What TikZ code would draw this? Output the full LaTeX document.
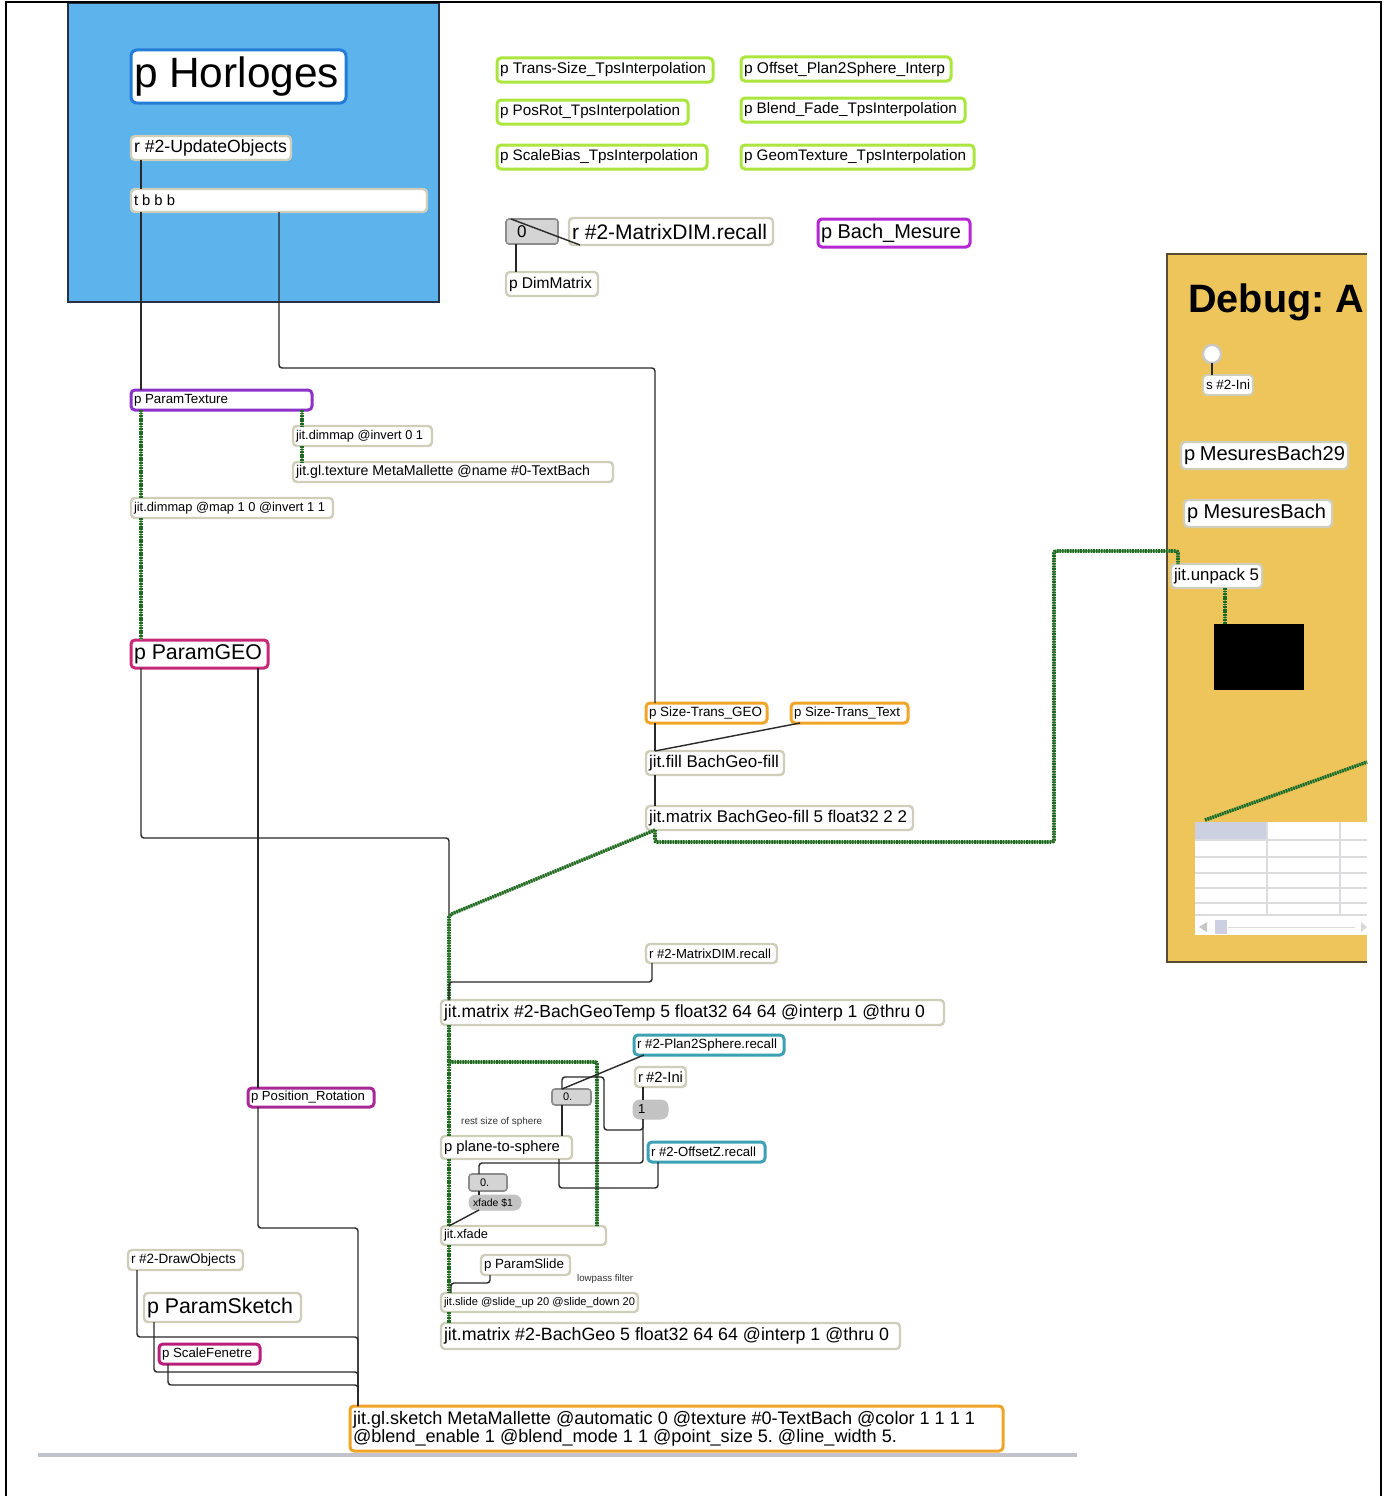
\documentclass[tikz,border=0pt]{standalone}
\usepackage{fontspec}
\setmainfont{Liberation Sans}
\usetikzlibrary{calc}

\definecolor{panelblue}{RGB}{93,179,236}
\definecolor{panelb}{RGB}{40,50,70}
\definecolor{dbg}{RGB}{237,197,90}
\definecolor{dbgb}{RGB}{90,75,50}
\definecolor{objb}{RGB}{206,206,186}
\definecolor{horlb}{RGB}{35,125,215}
\definecolor{grn}{RGB}{170,230,60}
\definecolor{purp}{RGB}{140,50,200}
\definecolor{bachc}{RGB}{180,40,210}
\definecolor{pinkc}{RGB}{200,40,120}
\definecolor{posc}{RGB}{170,40,150}
\definecolor{scfc}{RGB}{185,30,120}
\definecolor{orng}{RGB}{240,165,40}
\definecolor{teal}{RGB}{60,160,180}
\definecolor{portc}{RGB}{110,110,110}
\definecolor{cordc}{RGB}{40,40,40}
\definecolor{jitg}{RGB}{30,105,35}
\definecolor{jitgl}{RGB}{120,170,100}
\definecolor{nbf}{RGB}{212,212,212}
\definecolor{nbb}{RGB}{140,140,140}
\definecolor{ntri}{RGB}{175,175,175}
\definecolor{pillf}{RGB}{195,195,195}
\definecolor{barc}{RGB}{195,195,205}
\definecolor{gridc}{RGB}{220,220,222}
\definecolor{hdr}{RGB}{205,208,225}
\definecolor{btnb}{RGB}{200,200,200}

% text scaled so that its natural width equals #1 (pt)
\newlength\fitlen
\newcommand\fitt[2]{\frenchspacing\spaceskip=0pt\xspaceskip=0pt
  \settowidth\fitlen{\fontsize{10pt}{12pt}\selectfont #2}%
  \pgfmathsetmacro\fitsz{10*#1/\fitlen}%
  \fontsize{\fitsz pt}{\fitsz pt}\selectfont #2}
\newcommand\fittwo[4]{\frenchspacing\spaceskip=0pt\xspaceskip=0pt
  \settowidth\fitlen{\fontsize{10pt}{12pt}\selectfont #2}%
  \pgfmathsetmacro\fitsz{10*#1/\fitlen}%
  \fontsize{\fitsz pt}{#4pt}\selectfont #2\\#3}

% object box: name, left, top, width, height, style, content
\newcommand\mxobj[7]{%
  \pgfmathsetmacro\objtw{#4-6}%
  \node[#6, anchor=north west, minimum width=#4pt, minimum height=#5pt,
        text width=\objtw pt] (#1) at (#2,#3) {#7};}

\tikzset{
  obj/.style={draw=objb, line width=2.4pt, fill=white, rounded corners=4pt,
              inner xsep=3pt, inner ysep=0pt, outer sep=0pt, align=left, text=black},
  gobj/.style={obj, draw=grn, line width=3pt},
  oobj/.style={obj, draw=orng, line width=3pt},
  tobj/.style={obj, draw=teal, line width=3pt},
  nbox/.style={draw=nbb, fill=nbf, line width=1.6pt, rounded corners=3pt,
               inner xsep=3pt, inner ysep=0pt, outer sep=0pt, align=left,
               append after command={\pgfextra{\fill[ntri, sharp corners]
                 ([xshift=4pt]\tikzlastnode.west) ++(0,-4) -- ++(5,4) -- ++(-5,4) -- cycle;}}},
  pill/.style={fill=pillf, draw=pillf, line width=1pt, rounded corners=7pt,
               inner xsep=3pt, inner ysep=0pt, outer sep=0pt, align=left},
  cord/.style={draw=cordc, line width=1.4pt, rounded corners=3pt},
  mcord/.style={draw=jitg, line width=3.6pt, dash pattern=on 1.7pt off 0.9pt, rounded corners=2pt,
                preaction={draw=jitgl, line width=2.2pt, dash pattern=}},
  tT/.style={append after command={\pgfextra{\fill[portc, sharp corners]
      ([xshift=#1]\tikzlastnode.north west) rectangle ++(9,3);}}},
  tT/.default=4pt,
  tB/.style={append after command={\pgfextra{\fill[portc, sharp corners]
      ([xshift=#1]\tikzlastnode.south west) ++(0,-3) rectangle ++(9,3);}}},
  tB/.default=4pt,
  tTR/.style={append after command={\pgfextra{\fill[portc, sharp corners]
      ([xshift=-13pt]\tikzlastnode.north east) rectangle ++(9,3);}}},
  tBR/.style={append after command={\pgfextra{\fill[portc, sharp corners]
      ([xshift=-13pt]\tikzlastnode.south east) ++(0,-3) rectangle ++(9,3);}}},
  dashbot/.style={append after command={\pgfextra{\draw[portc!80, line width=2.6pt,
      dash pattern=on 7pt off 4pt, sharp corners]
      ([xshift=3pt]\tikzlastnode.south west) -- ([xshift=-3pt]\tikzlastnode.south east);}}},
  cmt/.style={anchor=west, inner sep=0pt, text=black!80},
}

\begin{document}
\begin{tikzpicture}[x=1pt,y=-1pt]
\useasboundingbox (0,0) rectangle (1387,1496);
\fill[white] (0,0) rectangle (1387,1496);

% panels
\draw[fill=panelblue, draw=panelb, line width=1.2pt] (68,3) rectangle (439,302);
\fill[dbg] (1167,254) rectangle (1367,962);
\draw[dbgb, line width=1.2pt] (1367,254) -- (1167,254) -- (1167,962) -- (1367,962);

% window frame and bottom scroll bar
\draw[line width=2.5pt] (6,1496) -- (6,2) -- (1381,2) -- (1381,1496);
\draw[barc, line width=3.5pt] (38,1455) -- (1077,1455);

% clock section
\mxobj{horl}{131}{50}{215}{53}{obj, draw=horlb, line width=3pt, rounded corners=6pt}{\fitt{205}{p Horloges}}
\mxobj{upd}{131}{136}{160}{24}{obj, tB}{\fitt{153}{r \#2-UpdateObjects}}
\mxobj{tbbb}{131}{189}{296}{23}{obj, tT, tB, tB=143pt, tBR}{\fitt{41}{t b b b}}

% interpolation subpatchers
\mxobj{g1}{497}{58}{216}{24}{gobj}{\fitt{206}{p Trans-Size\_TpsInterpolation}}
\mxobj{g2}{497}{100}{191}{24}{gobj}{\fitt{180}{p PosRot\_TpsInterpolation}}
\mxobj{g3}{497}{145}{210}{24}{gobj}{\fitt{198}{p ScaleBias\_TpsInterpolation}}
\mxobj{g4}{741}{57}{210}{24}{gobj}{\fitt{201}{p Offset\_Plan2Sphere\_Interp}}
\mxobj{g5}{741}{98}{224}{24}{gobj}{\fitt{213}{p Blend\_Fade\_TpsInterpolation}}
\mxobj{g6}{741}{145}{233}{24}{gobj}{\fitt{222}{p GeomTexture\_TpsInterpolation}}

\mxobj{num1}{506}{219}{52}{25}{nbox}{\hspace*{8pt}\fontsize{17pt}{17pt}\selectfont 0}
\mxobj{mdr1}{569}{218}{204}{27}{obj, tB=6pt}{\fitt{195}{r \#2-MatrixDIM.recall}}
\mxobj{dimm}{506}{272}{92}{24}{obj, tT}{\fitt{83}{p DimMatrix}}
\mxobj{bach}{818}{219}{152}{28}{obj, draw=bachc, line width=3pt}{\fitt{140}{p Bach\_Mesure}}

% debug panel content
\node[anchor=base west, inner sep=0pt] (dbgt) at (1188,312) {\fitt{176}{\bfseries Debug: A}};
\node[circle, draw=btnb, line width=2.2pt, fill=white, minimum size=18pt, inner sep=0pt, outer sep=0pt] (btn) at (1212,354) {};
\mxobj{sini}{1203}{375}{50}{20}{obj, line width=1.8pt}{\fitt{44}{s \#2-Ini}}
\mxobj{mb29}{1181}{442}{167}{27}{obj, tT}{\fitt{162}{p MesuresBach29}}
\mxobj{mb}{1184}{500}{148}{27}{obj, tT}{\fitt{139}{p MesuresBach}}
\mxobj{unpack}{1171}{564}{91}{24}{obj, tT, dashbot}{\fitt{85}{jit.unpack 5}}
\node[fill=black, anchor=north west, minimum width=90pt, minimum height=66pt, inner sep=0pt, outer sep=0pt] (blk) at (1214,624) {};

% cell table
\node[fill=white, anchor=north west, minimum width=172pt, minimum height=113pt, inner sep=0pt, outer sep=0pt] (tbl) at (1195,822) {};
\fill[hdr] (1195,822) rectangle (1267,840);
\foreach \yy in {840,857,873,888,903,915} \draw[gridc, line width=1.4pt] (1195,\yy) -- (1367,\yy);
\foreach \xx in {1267,1340} \draw[gridc, line width=1.4pt] (\xx,822) -- (\xx,915);
\fill[gray!45] (1199,927) -- (1207,922) -- (1207,932) -- cycle;
\fill[hdr] (1215,920) rectangle (1227,934);
\draw[gridc, line width=1pt] (1228,927) -- (1355,927);
\fill[gray!30] (1361,922) -- (1367,927) -- (1361,932) -- cycle;

% texture and geometry parameters
\mxobj{ptex}{131}{390}{181}{20}{obj, draw=purp, line width=3pt}{\fitt{94}{p ParamTexture}}
\mxobj{dinv}{293}{426}{139}{20}{obj, tT, tBR}{\fitt{127}{jit.dimmap @invert 0 1}}
\mxobj{gltex}{293}{462}{320}{20}{obj, tT, tB, tBR}{\fitt{294}{jit.gl.texture MetaMallette @name \#0-TextBach}}
\mxobj{dmap}{131}{498}{202}{20}{obj, tT, tB, tBR}{\fitt{191}{jit.dimmap @map 1 0 @invert 1 1}}
\mxobj{pgeo}{131}{640}{137}{28}{obj, draw=pinkc, line width=3pt}{\fitt{128}{p ParamGEO}}

\mxobj{stg}{646}{703}{121}{20}{oobj, tT, tB}{\fitt{113}{p Size-Trans\_GEO}}
\mxobj{stt}{791}{703}{117}{20}{oobj, tT, tB}{\fitt{106}{p Size-Trans\_Text}}
\mxobj{jfill}{646}{751}{138}{24}{obj, tT, tB, tBR}{\fitt{130}{jit.fill BachGeo-fill}}
\mxobj{jmfill}{646}{806}{267}{24}{obj, tT, tB, tBR}{\fitt{258}{jit.matrix BachGeo-fill 5 float32 2 2}}

\mxobj{mdr2}{646}{944}{131}{19}{obj, tB}{\fitt{122}{r \#2-MatrixDIM.recall}}
\mxobj{jmtemp}{441}{1000}{503}{25}{obj, tT, tB, tBR}{\fitt{481}{jit.matrix \#2-BachGeoTemp 5 float32 64 64 @interp 1 @thru 0}}

% plane to sphere blending
\mxobj{p2s}{634}{1035}{150}{20}{tobj}{\fitt{140}{r \#2-Plan2Sphere.recall}}
\mxobj{rini}{635}{1067}{51}{20}{obj, tB}{\fitt{46}{r \#2-Ini}}
\mxobj{num2}{552}{1089}{39}{16}{nbox}{\hspace*{8pt}\fontsize{11pt}{11pt}\selectfont 0.}
\mxobj{msg1}{633}{1100}{35}{19}{pill}{\hspace*{2pt}\fontsize{13pt}{13pt}\selectfont 1}
\node[cmt] (restc) at (461,1122) {\fitt{81}{rest size of sphere}};
\mxobj{plane}{441}{1136}{131}{23}{obj, tT, tT=60pt, tTR}{\fitt{116}{p plane-to-sphere}}
\mxobj{offz}{648}{1142}{117}{20}{tobj, tB=6pt}{\fitt{105}{r \#2-OffsetZ.recall}}
\mxobj{num3}{469}{1174}{38}{17}{nbox}{\hspace*{8pt}\fontsize{11pt}{11pt}\selectfont 0.}
\mxobj{xf1}{469}{1195}{52}{15}{pill}{\hspace*{1pt}\fitt{40}{xfade \$1}}
\mxobj{xfade}{441}{1226}{165}{19}{obj, tT, tTR, tB, tBR}{\fitt{44}{jit.xfade}}
\mxobj{pslide}{481}{1255}{89}{20}{obj, tB}{\fitt{80}{p ParamSlide}}
\node[cmt] (lowc) at (577,1279) {\fitt{56}{lowpass filter}};
\mxobj{jslide}{441}{1293}{197}{19}{obj, tT, tB, tBR}{\fitt{191}{jit.slide @slide\_up 20 @slide\_down 20}}
\mxobj{jmgeo}{441}{1323}{459}{26}{obj, tT, tB, tBR}{\fitt{445}{jit.matrix \#2-BachGeo 5 float32 64 64 @interp 1 @thru 0}}

% drawing section
\mxobj{posrot}{248}{1088}{126}{19}{obj, draw=posc, line width=3pt, tB}{\fitt{114}{p Position\_Rotation}}
\mxobj{drawo}{128}{1250}{115}{20}{obj, tB}{\fitt{105}{r \#2-DrawObjects}}
\mxobj{psk}{144}{1293}{157}{29}{obj, tB}{\fitt{146}{p ParamSketch}}
\mxobj{scf}{159}{1344}{101}{20}{obj, draw=scfc, line width=3pt, tB}{\fitt{90}{p ScaleFenetre}}
\mxobj{sketch}{350}{1406}{653}{45}{oobj, tT, tB, tBR}{\fittwo{622}{jit.gl.sketch MetaMallette @automatic 0 @texture \#0-TextBach @color 1 1 1 1}{@blend\_enable 1 @blend\_mode 1 1 @point\_size 5. @line\_width 5.}{21}}

% ---- patch cords ----
\draw[cord] ([xshift=10pt]upd.south west) -- ([xshift=10pt]tbbb.north west);
\draw[cord] ([xshift=10pt]tbbb.south west) -- ([xshift=10pt]ptex.north west);
\draw[cord] ([xshift=148pt]tbbb.south west) -- ++(0,156) -| ([xshift=9pt]stg.north west);

\draw[cord] ([xshift=11pt]mdr1.south west) -- ([xshift=5pt]num1.north west);
\draw[cord] ([xshift=10pt]num1.south west) -- ([xshift=10pt]dimm.north west);
\draw[cord] (btn.south) -- ([xshift=9pt]sini.north west);

\draw[mcord] ([xshift=10pt]ptex.south west) -- ([xshift=10pt]dmap.north west);
\draw[mcord] ([xshift=-10pt]ptex.south east) -- ([xshift=9pt]dinv.north west);
\draw[mcord] ([xshift=9pt]dinv.south west) -- ([xshift=9pt]gltex.north west);
\draw[mcord] ([xshift=10pt]dmap.south west) -- ([xshift=10pt]pgeo.north west);

\draw[cord] ([xshift=10pt]pgeo.south west) -- ++(0,170) -| ([xshift=8pt]jmtemp.north west);
\draw[cord] ([xshift=-10pt]pgeo.south east) -- ([xshift=10pt]posrot.north west);
\draw[cord] ([xshift=10pt]posrot.south west) -- ++(0,121) -| ([xshift=8pt]sketch.north west);

\draw[cord] ([xshift=9pt]stg.south west) -- ([xshift=9pt]jfill.north west);
\draw[cord, rounded corners=0pt] ([xshift=9pt]stt.south west) -- ([xshift=9pt]jfill.north west);
\draw[cord] ([xshift=9pt]jfill.south west) -- ([xshift=9pt]jmfill.north west);

\draw[mcord] ([xshift=9pt]jmfill.south west) -- ++(-206,85) -- ([xshift=8pt]jmtemp.north west);
\draw[mcord] ([xshift=9pt]jmfill.south west) -- ++(0,12) -- ++(399,0) -- ++(0,-291) -| ([xshift=7pt]unpack.north west);
\draw[mcord] ([xshift=54pt]unpack.south west) -- ([xshift=11pt]blk.north west);
\coordinate (tblout) at (1367,762);
\draw[mcord] ([xshift=10pt,yshift=2pt]tbl.north west) -- (tblout);

\draw[cord] ([xshift=6pt]mdr2.south west) -- ++(0,19) -| ([xshift=8pt]jmtemp.north west);

\draw[mcord] ([xshift=8pt]jmtemp.south west) -- ([xshift=8pt]plane.north west);
\draw[mcord] ([xshift=8pt]jmtemp.south west) -- ++(0,37) -| ([xshift=-9pt]xfade.north east);
\draw[mcord] ([xshift=8pt]plane.south west) -- ([xshift=8pt]xfade.north west);
\draw[mcord] ([xshift=8pt]xfade.south west) -- ([xshift=8pt]jslide.north west);
\draw[mcord] ([xshift=8pt]jslide.south west) -- ([xshift=8pt]jmgeo.north west);

\draw[cord, rounded corners=0pt] ([xshift=10pt]p2s.south west) -- ([xshift=10pt]num2.north west);
\draw[cord] ([xshift=8pt]rini.south west) -- ([xshift=10pt]msg1.north west);
\draw[cord] ([xshift=10pt]msg1.south west) -- ++(0,11) -- ++(-39,0) -- ++(0,-53) -| ([xshift=10pt]num2.north west);
\draw[cord] ([xshift=10pt]msg1.south west) -- ++(0,44) -| ([xshift=10pt]num3.north west);
\draw[cord] ([xshift=10pt]num2.south west) -- ([xshift=-10pt]plane.north east);
\draw[cord] ([xshift=10pt]offz.south west) -- ++(0,26) -| ([xshift=-13pt]plane.south east);
\draw[cord] ([xshift=10pt]num3.south west) -- ([xshift=10pt]xf1.north west);
\draw[cord, rounded corners=0pt] ([xshift=10pt]xf1.south west) -- ([xshift=8pt]xfade.north west);
\draw[cord] ([xshift=9pt]pslide.south west) -- ++(0,8) -| ([xshift=10pt]jslide.north west);

\draw[cord] ([xshift=9pt]drawo.south west) -- ++(0,67) -| ([xshift=8pt]sketch.north west);
\draw[cord] ([xshift=10pt]psk.south west) -- ++(0,50) -| ([xshift=8pt]sketch.north west);
\draw[cord] ([xshift=9pt]scf.south west) -- ++(0,21) -| ([xshift=8pt]sketch.north west);
\end{tikzpicture}
\end{document}
